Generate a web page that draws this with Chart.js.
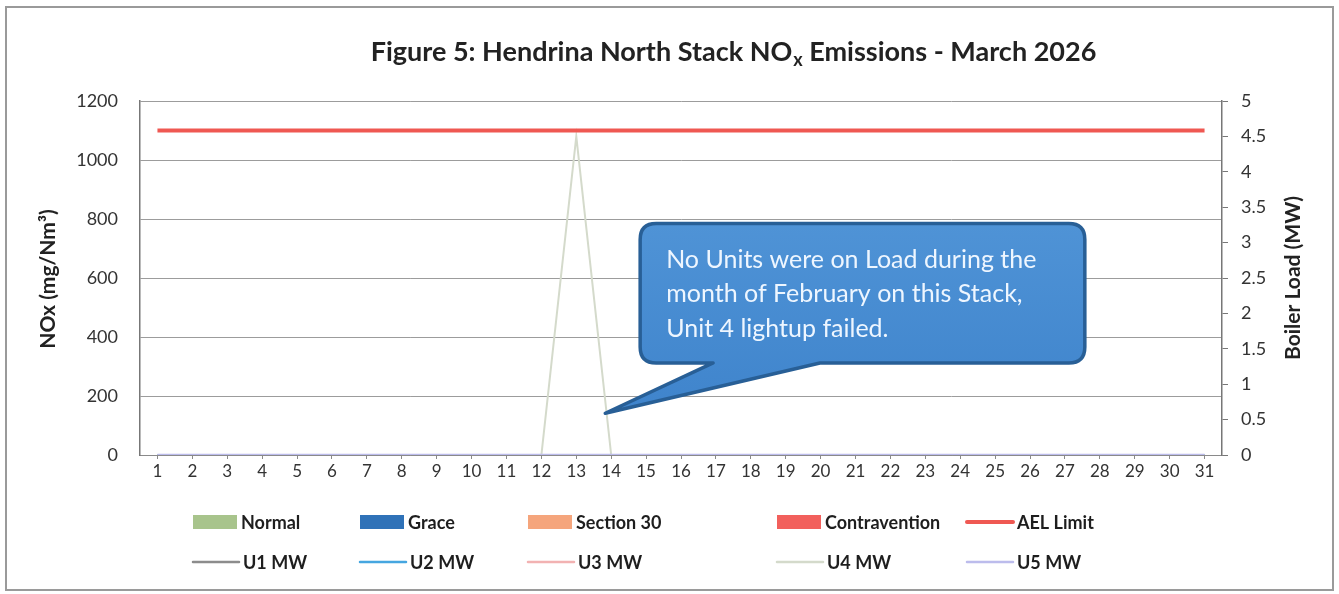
<!DOCTYPE html>
<html>
<head>
<meta charset="utf-8">
<script src="https://cdn.jsdelivr.net/npm/chart.js@4.4.1/dist/chart.umd.min.js"></script>
<style>
html,body{margin:0;padding:0;background:#fff;}
#wrap{width:1339px;height:594px;position:relative;}
</style>
</head>
<body>
<div id="wrap"><canvas id="c" width="1339" height="594"></canvas></div>
<script>
// ---- data ----
const days = Array.from({length:31},(_,i)=>String(i+1));
const normal       = [0,0,0,0,0,0,0,0,0,0,0,0,0,0,0,0,0,0,0,0,0,0,0,0,0,0,0,0,0,0,0];
const grace        = [0,0,0,0,0,0,0,0,0,0,0,0,0,0,0,0,0,0,0,0,0,0,0,0,0,0,0,0,0,0,0];
const section30    = [0,0,0,0,0,0,0,0,0,0,0,0,0,0,0,0,0,0,0,0,0,0,0,0,0,0,0,0,0,0,0];
const contravention= [0,0,0,0,0,0,0,0,0,0,0,0,0,0,0,0,0,0,0,0,0,0,0,0,0,0,0,0,0,0,0];
const aelLimit     = [1100,1100,1100,1100,1100,1100,1100,1100,1100,1100,1100,1100,1100,1100,1100,1100,1100,1100,1100,1100,1100,1100,1100,1100,1100,1100,1100,1100,1100,1100,1100];
const u1MW = [0,0,0,0,0,0,0,0,0,0,0,0,0,0,0,0,0,0,0,0,0,0,0,0,0,0,0,0,0,0,0];
const u2MW = [0,0,0,0,0,0,0,0,0,0,0,0,0,0,0,0,0,0,0,0,0,0,0,0,0,0,0,0,0,0,0];
const u3MW = [0,0,0,0,0,0,0,0,0,0,0,0,0,0,0,0,0,0,0,0,0,0,0,0,0,0,0,0,0,0,0];
const u4MW = [0,0,0,0,0,0,0,0,0,0,0,0,4.5,0,0,0,0,0,0,0,0,0,0,0,0,0,0,0,0,0,0];
const u5MW = [0,0,0,0,0,0,0,0,0,0,0,0,0,0,0,0,0,0,0,0,0,0,0,0,0,0,0,0,0,0,0];
const noxTicks = [0,200,400,600,800,1000,1200];
const mwTicks  = [0,0.5,1,1.5,2,2.5,3,3.5,4,4.5,5];
const titleMain = 'Figure 5: Hendrina North Stack NO';
const titleSub = 'x';
const titleEnd = ' Emissions - March 2026';
const leftAxisTitle = 'NOx (mg/Nm³)';
const rightAxisTitle = 'Boiler Load (MW)';
const calloutLines = ['No Units were on Load during the','month of February on this Stack,','Unit 4 lightup failed.'];

const FONT = 'Lato, "Open Sans", sans-serif';

const datasets = [
  {type:'bar', label:'Normal', data:normal, backgroundColor:'#a8c48c', yAxisID:'y', order:5, legendKind:'box'},
  {type:'bar', label:'Grace', data:grace, backgroundColor:'#2f72b8', yAxisID:'y', order:5, legendKind:'box'},
  {type:'bar', label:'Section 30', data:section30, backgroundColor:'#f5a57c', yAxisID:'y', order:5, legendKind:'box'},
  {type:'bar', label:'Contravention', data:contravention, backgroundColor:'#f2605c', yAxisID:'y', order:5, legendKind:'box'},
  {type:'line', label:'AEL Limit', data:aelLimit, borderColor:'#ef5852', borderWidth:4, pointRadius:0, yAxisID:'y', order:0, legendKind:'line'},
  {type:'line', label:'U1 MW', data:u1MW, borderColor:'#8c8c8c', borderWidth:2, pointRadius:0, yAxisID:'y1', order:4, legendKind:'line'},
  {type:'line', label:'U2 MW', data:u2MW, borderColor:'#45a6e0', borderWidth:2, pointRadius:0, yAxisID:'y1', order:3, legendKind:'line'},
  {type:'line', label:'U3 MW', data:u3MW, borderColor:'#f2b2b2', borderWidth:2, pointRadius:0, yAxisID:'y1', order:3, legendKind:'line'},
  {type:'line', label:'U4 MW', data:u4MW, borderColor:'#d4dacb', borderWidth:2, pointRadius:0, yAxisID:'y1', order:2, legendKind:'line'},
  {type:'line', label:'U5 MW', data:u5MW, borderColor:'#bcbcec', borderWidth:2.5, pointRadius:0, yAxisID:'y1', order:1, legendKind:'line'}
];

// callout geometry in data units (category index, MW)
const callout = {left:13.83, right:26.57, top:3.27, bottom:1.30, baseL:15.92, baseR:18.98, tipX:12.83, tipY:0.59};

const decor = {
  id:'decor',
  beforeDraw(chart){
    const ctx = chart.ctx;
    ctx.save();
    ctx.fillStyle='#fff';
    ctx.fillRect(0,0,chart.width,chart.height);
    ctx.strokeStyle='#9a9a9a';
    ctx.lineWidth=2;
    ctx.strokeRect(6,7,1327,583);
    // title
    ctx.fillStyle='#222';
    ctx.textBaseline='alphabetic';
    ctx.font='bold 27px '+FONT;
    const w1 = ctx.measureText(titleMain).width;
    ctx.font='bold 18px '+FONT;
    const w2 = ctx.measureText(titleSub).width;
    ctx.font='bold 27px '+FONT;
    const w3 = ctx.measureText(titleEnd).width;
    let x = 733 - (w1+w2+w3)/2;
    const yb = 61;
    ctx.fillText(titleMain,x,yb); x+=w1;
    ctx.font='bold 18px '+FONT;
    ctx.fillText(titleSub,x+1,yb+5); x+=w2+1;
    ctx.font='bold 27px '+FONT;
    ctx.fillText(titleEnd,x,yb);
    // axis titles (both read bottom-to-top)
    const ca = chart.chartArea;
    const midY = (ca.top+ca.bottom)/2;
    ctx.font='bold 21px '+FONT;
    ctx.textAlign='center'; ctx.textBaseline='middle';
    ctx.save(); ctx.translate(48, midY+1); ctx.rotate(-Math.PI/2); ctx.fillText(leftAxisTitle,0,0); ctx.restore();
    ctx.save(); ctx.translate(1293, midY); ctx.rotate(-Math.PI/2); ctx.fillText(rightAxisTitle,0,0); ctx.restore();
    ctx.restore();
  },
  afterDraw(chart){
    const ctx = chart.ctx;
    const xs = chart.scales.x, ys = chart.scales.y1;
    // callout
    const L = xs.getPixelForValue(callout.left), R = xs.getPixelForValue(callout.right);
    const T = ys.getPixelForValue(callout.top), B = ys.getPixelForValue(callout.bottom);
    const bL = xs.getPixelForValue(callout.baseL), bR = xs.getPixelForValue(callout.baseR);
    const tX = xs.getPixelForValue(callout.tipX), tY = ys.getPixelForValue(callout.tipY);
    const r = 16;
    ctx.save();
    ctx.beginPath();
    ctx.moveTo(L+r,T);
    ctx.lineTo(R-r,T); ctx.quadraticCurveTo(R,T,R,T+r);
    ctx.lineTo(R,B-r); ctx.quadraticCurveTo(R,B,R-r,B);
    ctx.lineTo(bR,B); ctx.lineTo(tX,tY); ctx.lineTo(bL,B);
    ctx.lineTo(L+r,B); ctx.quadraticCurveTo(L,B,L,B-r);
    ctx.lineTo(L,T+r); ctx.quadraticCurveTo(L,T,L+r,T);
    ctx.closePath();
    const g = ctx.createLinearGradient(0,T,0,tY);
    g.addColorStop(0,'#4f93d6'); g.addColorStop(1,'#3f84cc');
    ctx.fillStyle=g; ctx.fill();
    ctx.lineWidth=3.5; ctx.strokeStyle='#285f96'; ctx.lineJoin='round'; ctx.stroke();
    ctx.fillStyle='#eef6ff';
    ctx.font='25px '+FONT;
    ctx.textBaseline='middle';
    calloutLines.forEach((s,i)=>ctx.fillText(s, L+26, T+36+i*34.5));
    // legend
    const cols=[193,360,528,777,967];
    const rows=[522,562];
    ctx.font='bold 18px '+FONT;
    ctx.textBaseline='middle';
    chart.data.datasets.forEach((d,i)=>{
      const col = i%5, row = Math.floor(i/5);
      const x = cols[col], y = rows[row];
      if(d.legendKind==='box'){
        ctx.fillStyle=d.backgroundColor;
        ctx.fillRect(x,y-7,44,14);
      } else {
        ctx.strokeStyle=d.borderColor;
        ctx.lineWidth = d.label==='AEL Limit'?4:2.5;
        ctx.lineCap='round';
        ctx.beginPath(); ctx.moveTo(x,y); ctx.lineTo(x+46,y); ctx.stroke();
      }
      ctx.fillStyle='#1e1e1e';
      ctx.fillText(d.label, x+(d.legendKind==='box'?48:50), y+1);
    });
    ctx.restore();
  }
};

new Chart(document.getElementById('c'),{
  data:{labels:days, datasets:datasets},
  options:{
    responsive:false, animation:false,
    layout:{padding:{left:8,right:10,top:101,bottom:104}},
    plugins:{legend:{display:false}, title:{display:false}, tooltip:{enabled:false}},
    scales:{
      x:{
        offset:true,
        grid:{display:true, drawOnChartArea:false, drawTicks:true, tickLength:4, color:'#8a8a8a', offset:false},
        border:{display:true,color:'#8a8a8a'},
        ticks:{font:{family:FONT,size:17},color:'#333',padding:2, maxRotation:0, autoSkip:false},
        afterFit(s){s.height=35;}
      },
      y:{
        position:'left', min:0, max:1200,
        afterBuildTicks(s){s.ticks=noxTicks.map(v=>({value:v}));},
        grid:{color:'#9c9c9c', drawTicks:false, lineWidth:1},
        border:{display:true,color:'#777',width:1.5},
        ticks:{font:{family:FONT,size:18},color:'#333',padding:22, callback:v=>String(v)},
        afterFit(s){s.width=132;}
      },
      y1:{
        position:'right', min:0, max:5,
        afterBuildTicks(s){s.ticks=mwTicks.map(v=>({value:v}));},
        grid:{drawOnChartArea:false, drawTicks:true, tickLength:6, color:'#777'},
        border:{display:true,color:'#777',width:1.5},
        ticks:{font:{family:FONT,size:18},color:'#333',padding:13, callback:v=>String(v)},
        afterFit(s){s.width=107;}
      }
    }
  },
  plugins:[decor]
});
</script>
</body>
</html>
